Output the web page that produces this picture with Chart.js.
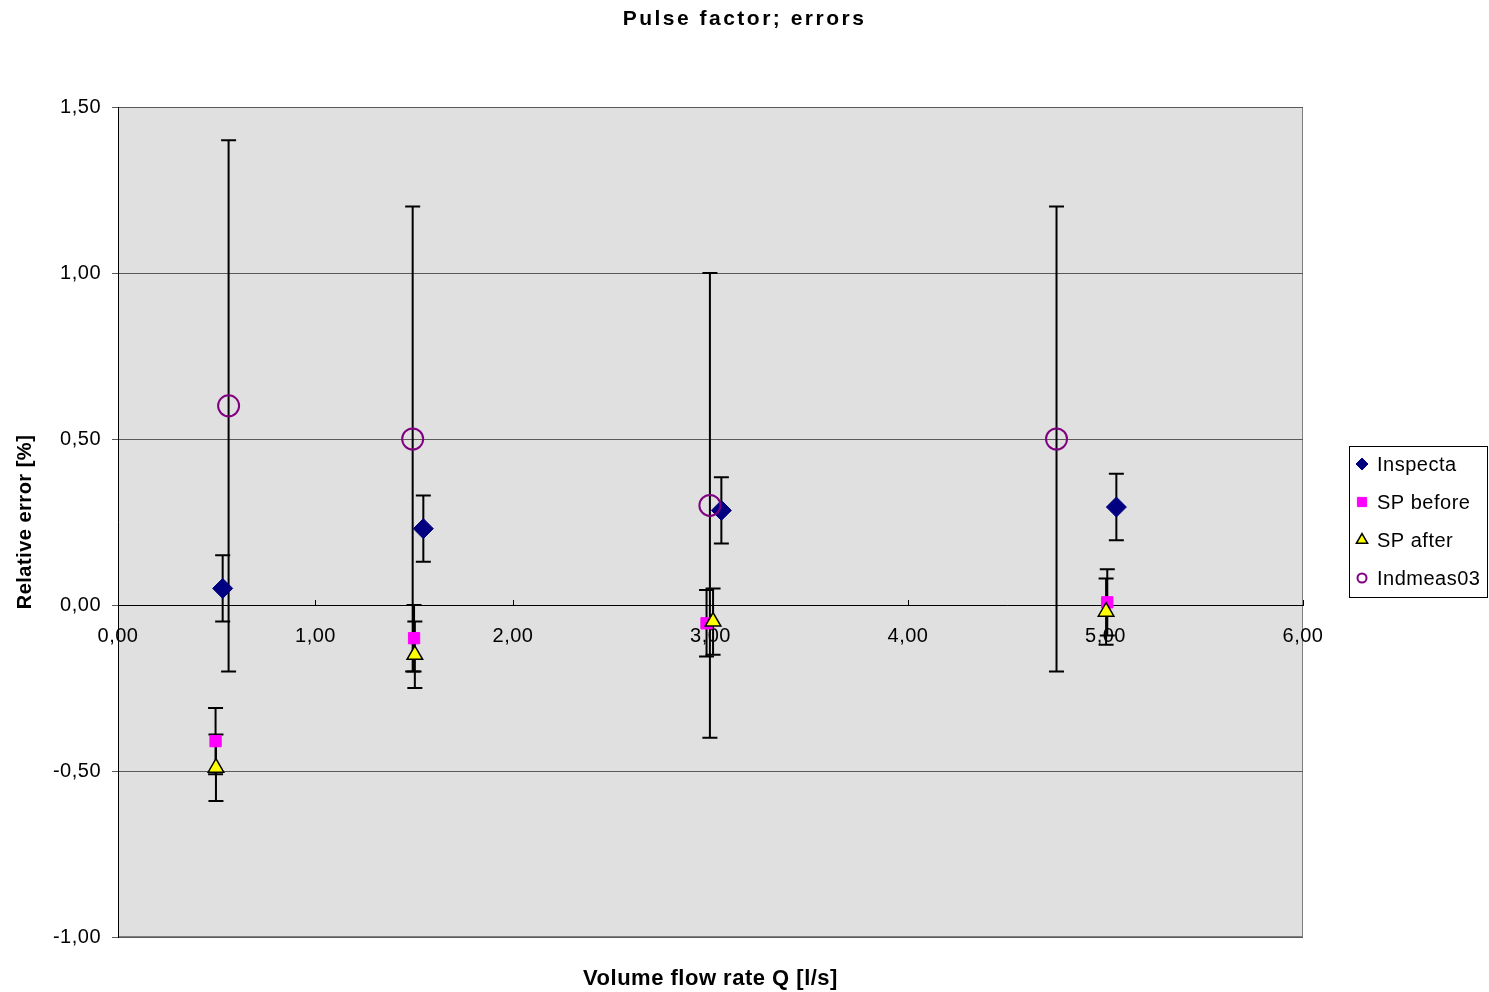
<!DOCTYPE html>
<html>
<head>
<meta charset="utf-8">
<title>Pulse factor; errors</title>
<script src="https://cdn.jsdelivr.net/npm/chart.js@4.4.0/dist/chart.umd.min.js"></script>
<style>
    html, body { margin: 0; padding: 0; background: #fff; }
    #wrap { width: 1489px; height: 992px; }
</style>
</head>
<body>
<div id="wrap"><canvas id="chart" width="1489" height="992"></canvas></div>
<script>
// volume flow rate Q [l/s], relative error [%], error bar half width [%]
const inspectaQ   = [0.53, 1.546, 3.055, 5.055];
const inspectaErr = [0.05, 0.23, 0.285, 0.295];
const inspectaUnc = [0.10, 0.10, 0.10, 0.10];

const spBeforeQ   = [0.494, 1.499, 2.98, 5.009];
const spBeforeErr = [-0.41, -0.10, -0.055, 0.008];
const spBeforeUnc = [0.10, 0.10, 0.10, 0.10];

const spAfterQ   = [0.496, 1.503, 3.013, 5.003];
const spAfterErr = [-0.49, -0.15, -0.05, -0.02];
const spAfterUnc = [0.10, 0.10, 0.10, 0.10];

const indmeasQ   = [0.56, 1.492, 2.997, 4.752];
const indmeasErr = [0.60, 0.50, 0.30, 0.50];
const indmeasUnc = [0.80, 0.70, 0.70, 0.70];

const xTicks = [0, 1, 2, 3, 4, 5, 6];
const yTicks = [-1, -0.5, 0, 0.5, 1, 1.5];

const FONT = '"Liberation Sans", Arial, sans-serif';
const comma = v => v.toFixed(2).replace('.', ',');
const points = (xs, ys) => xs.map((x, i) => ({x: x, y: ys[i]}));

// grey plot area with thin frame
const plotBackground = {
    id: 'plotBackground',
    beforeDraw(chart) {
        const {ctx, chartArea: a} = chart;
        ctx.letterSpacing = '0.5px';
        ctx.save();
        ctx.fillStyle = '#e0e0e0';
        ctx.fillRect(a.left, a.top, a.width, a.height);
        ctx.strokeStyle = '#808080';
        ctx.lineWidth = 1;
        ctx.strokeRect(a.left + 0.5, a.top + 0.5, a.width - 1, a.height - 1);
        ctx.restore();
    },
    afterInit(chart) {
        // the Excel title is rendered with wide letter spacing
        const block = chart.titleBlock;
        const drawTitle = block.draw;
        block.draw = function () {
            this.ctx.save();
            this.ctx.letterSpacing = '2.5px';
            drawTitle.call(this);
            this.ctx.restore();
        };
    }
};

// vertical error bars, drawn under the markers
const errorBars = {
    id: 'errorBars',
    beforeDatasetsDraw(chart) {
        const {ctx} = chart;
        const xs = chart.scales.x, ys = chart.scales.y;
        ctx.save();
        ctx.strokeStyle = '#000';
        ctx.lineWidth = 2;
        chart.data.datasets.forEach(ds => {
            ds.data.forEach((p, i) => {
                const px = xs.getPixelForValue(p.x);
                const top = ys.getPixelForValue(p.y + ds.errorBars[i]);
                const bot = ys.getPixelForValue(p.y - ds.errorBars[i]);
                ctx.beginPath();
                ctx.moveTo(px, top);
                ctx.lineTo(px, bot);
                ctx.moveTo(px - 7.5, top);
                ctx.lineTo(px + 7.5, top);
                ctx.moveTo(px - 7.5, bot);
                ctx.lineTo(px + 7.5, bot);
                ctx.stroke();
            });
        });
        ctx.restore();
    }
};

// boxed legend on the right, like the Excel one
const boxLegend = {
    id: 'boxLegend',
    afterDraw(chart) {
        const {ctx} = chart;
        const left = 1349, top = 446, w = 138, h = 151;
        ctx.save();
        ctx.fillStyle = '#fff';
        ctx.fillRect(left, top, w, h);
        ctx.strokeStyle = '#000';
        ctx.lineWidth = 1;
        ctx.strokeRect(left + 0.5, top + 0.5, w, h);
        ctx.font = '20px ' + FONT;
        ctx.textBaseline = 'middle';
        chart.data.datasets.forEach((ds, i) => {
            const cy = top + 18 + i * 38;
            ctx.fillStyle = ds.backgroundColor;
            ctx.strokeStyle = ds.borderColor;
            ctx.lineWidth = ds.borderWidth;
            Chart.helpers.drawPoint(ctx, {
                pointStyle: ds.pointStyle,
                radius: ds.legendRadius,
                borderWidth: ds.borderWidth
            }, 1362, cy);
            ctx.fillStyle = '#000';
            ctx.fillText(ds.label, 1377, cy + 1);
        });
        ctx.restore();
    }
};

new Chart(document.getElementById('chart'), {
    type: 'scatter',
    data: {
        datasets: [{
            label: 'Inspecta',
            data: points(inspectaQ, inspectaErr),
            errorBars: inspectaUnc,
            pointStyle: 'rectRot',
            pointRadius: 10,
            backgroundColor: '#000080',
            borderColor: '#000080',
            borderWidth: 1,
            legendRadius: 6,
            order: 4
        }, {
            label: 'SP before',
            data: points(spBeforeQ, spBeforeErr),
            errorBars: spBeforeUnc,
            pointStyle: 'rect',
            pointRadius: 8,
            backgroundColor: '#ff00ff',
            borderColor: '#ff00ff',
            borderWidth: 1,
            legendRadius: 6.5,
            order: 3
        }, {
            label: 'SP after',
            data: points(spAfterQ, spAfterErr),
            errorBars: spAfterUnc,
            pointStyle: 'triangle',
            pointRadius: 9,
            backgroundColor: '#ffff00',
            borderColor: '#000000',
            borderWidth: 1.5,
            legendRadius: 6.5,
            order: 2
        }, {
            label: 'Indmeas03',
            data: points(indmeasQ, indmeasErr),
            errorBars: indmeasUnc,
            pointStyle: 'circle',
            pointRadius: 10.5,
            backgroundColor: 'rgba(0,0,0,0)',
            borderColor: '#800080',
            borderWidth: 2,
            legendRadius: 4.5,
            order: 1
        }]
    },
    options: {
        responsive: false,
        animation: false,
        events: [],
        layout: {
            padding: 0
        },
        plugins: {
            legend: {display: false},
            tooltip: {enabled: false},
            title: {
                display: true,
                text: 'Pulse factor; errors',
                color: '#000',
                font: {family: FONT, size: 21, weight: 'bold'},
                padding: {top: 7, bottom: 74.8}
            }
        },
        scales: {
            y: {
                type: 'linear',
                position: 'left',
                min: yTicks[0],
                max: yTicks[yTicks.length - 1],
                afterBuildTicks: scale => { scale.ticks = yTicks.map(v => ({value: v})); },
                afterFit: scale => { scale.width = 118; },
                grid: {
                    color: '#5a5a5a',
                    lineWidth: 1,
                    drawTicks: true,
                    tickLength: 6,
                    z: -1
                },
                border: {display: true, color: '#000', width: 1},
                ticks: {
                    color: '#000',
                    padding: 11,
                    font: {family: FONT, size: 20},
                    callback: v => comma(v)
                },
                title: {
                    display: true,
                    text: 'Relative error [%]',
                    color: '#000',
                    font: {family: FONT, size: 20, weight: 'bold'},
                    padding: {top: 13, bottom: 0}
                }
            },
            // empty right-hand axis that keeps room for the legend box
            yRight: {
                type: 'linear',
                position: 'right',
                afterFit: scale => { scale.width = 186; },
                grid: {display: false, drawTicks: false},
                border: {display: false},
                ticks: {display: false},
                title: {display: false}
            },
            x: {
                type: 'linear',
                position: {y: 0},
                min: xTicks[0],
                max: xTicks[xTicks.length - 1],
                afterBuildTicks: scale => { scale.ticks = xTicks.map(v => ({value: v})); },
                grid: {
                    display: true,
                    drawOnChartArea: false,
                    drawTicks: true,
                    tickLength: -6,
                    color: '#000'
                },
                border: {display: true, color: '#000', width: 1},
                ticks: {
                    color: '#000',
                    padding: 25,
                    maxRotation: 0,
                    font: {family: FONT, size: 20},
                    callback: v => comma(v)
                },
                title: {display: false}
            },
            x2: {
                type: 'linear',
                position: 'bottom',
                min: xTicks[0],
                max: xTicks[xTicks.length - 1],
                afterFit: scale => { scale.height = 55; },
                grid: {display: false, drawTicks: false},
                border: {display: false},
                ticks: {display: false},
                title: {
                    display: true,
                    text: 'Volume flow rate Q [l/s]',
                    color: '#000',
                    font: {family: FONT, size: 22, weight: 'bold'},
                    padding: {top: 2.8, bottom: 0}
                }
            }
        }
    },
    plugins: [plotBackground, errorBars, boxLegend]
});
</script>
</body>
</html>
